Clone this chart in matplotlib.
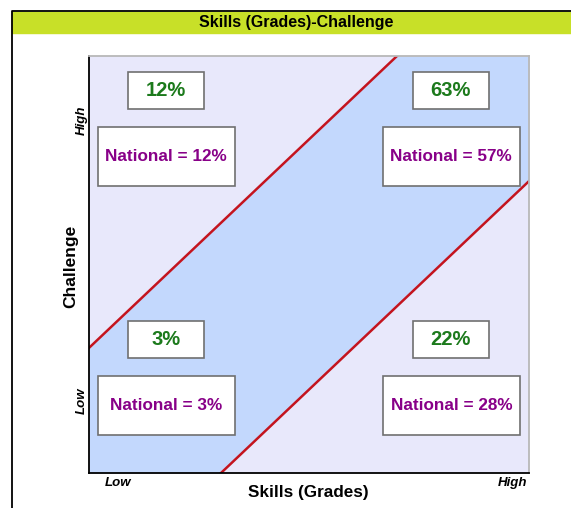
import matplotlib.pyplot as plt
import numpy as np
from matplotlib.patches import Rectangle
from matplotlib.lines import Line2D

plt.rcParams['font.family'] = ['Liberation Sans', 'DejaVu Sans']

# quadrant results: top-left, top-right, bottom-left, bottom-right
quadrants = ["high_low", "high_high", "low_low", "low_high"]
school_pct = [12, 63, 3, 22]
national_pct = [12, 57, 3, 28]
band_offset = 0.3   # flow channel half width (challenge = skills +/- offset)
axis_ticks = ["Low", "High"]

W, H = 571, 508
fig = plt.figure(figsize=(W / 100, H / 100), dpi=100)

def fx(px):
    return px / W

def fy(py):
    return 1 - py / H

# header bar and frame
fig.patches.append(Rectangle((fx(12), fy(33)), 1 - fx(12), fy(12) - fy(33),
                             transform=fig.transFigure, color='#c8e028', zorder=0))
fig.lines.append(Line2D([fx(12), fx(12), 1], [0, fy(11), fy(11)],
                        transform=fig.transFigure, color='black', lw=1.3))
fig.text(fx(296), fy(22), "Skills (Grades)-Challenge", ha='center', va='center',
         fontsize=11.5, fontweight='bold')

ax = fig.add_axes([fx(89), fy(473), fx(529) - fx(89), fy(56) - fy(473)])
ax.set_xlim(0, 1)
ax.set_ylim(0, 1)
ax.set_facecolor('#e8e8fb')
x = np.linspace(0, 1, 200)
ax.fill_between(x, np.clip(x - band_offset, 0, 1), np.clip(x + band_offset, 0, 1),
                color='#c3d8fd', lw=0)
ax.plot(x, x + band_offset, color='#c4141e', lw=1.8)
ax.plot(x, x - band_offset, color='#c4141e', lw=1.8)
ax.set_xticks([])
ax.set_yticks([])
for s in ['left', 'bottom']:
    ax.spines[s].set_color('black')
    ax.spines[s].set_linewidth(1.3)
for s in ['top', 'right']:
    ax.spines[s].set_color('#b8b8b8')
    ax.spines[s].set_linewidth(1.3)

# box layout per quadrant: (small box x0, national box x0, small box y0, national box y0)
col_small = {'low': 0.089, 'high': 0.736}
col_nat = {'low': 0.020, 'high': 0.668}
row_small = {'high': 0.873, 'low': 0.276}
row_nat = {'high': 0.688, 'low': 0.091}
sw, sh = 0.173, 0.089
nw, nh = 0.311, 0.142

for q, sp, npct in zip(quadrants, school_pct, national_pct):
    row, col = q.split('_')
    x0, y0 = col_small[col], row_small[row]
    ax.add_patch(Rectangle((x0, y0), sw, sh, fc='white', ec='#707070', lw=1.2, zorder=3))
    ax.text(x0 + sw / 2, y0 + sh / 2, f"{sp}%", ha='center', va='center',
            fontsize=14.5, fontweight='bold', color='#1c7a1c', zorder=4)
    x0, y0 = col_nat[col], row_nat[row]
    ax.add_patch(Rectangle((x0, y0), nw, nh, fc='white', ec='#707070', lw=1.2, zorder=3))
    ax.text(x0 + nw / 2, y0 + nh / 2, f"National = {npct}%", ha='center', va='center',
            fontsize=12.3, fontweight='bold', color='#880088', zorder=4)

# axis labels
fig.text(fx(308), fy(493), "Skills (Grades)", ha='center', va='center',
         fontsize=12.3, fontweight='bold')
fig.text(fx(71), fy(266), "Challenge", ha='center', va='center', rotation=90,
         fontsize=12.5, fontweight='bold')
lk = dict(fontsize=9.5, fontweight='bold', style='italic', va='center')
fig.text(fx(105), fy(483), axis_ticks[0], ha='left', **lk)
fig.text(fx(527), fy(483), axis_ticks[1], ha='right', **lk)
fig.text(fx(82), fy(401), axis_ticks[0], ha='center', rotation=90, **lk)
fig.text(fx(82), fy(120), axis_ticks[1], ha='center', rotation=90, **lk)

fig.savefig("out.png", dpi=100)
